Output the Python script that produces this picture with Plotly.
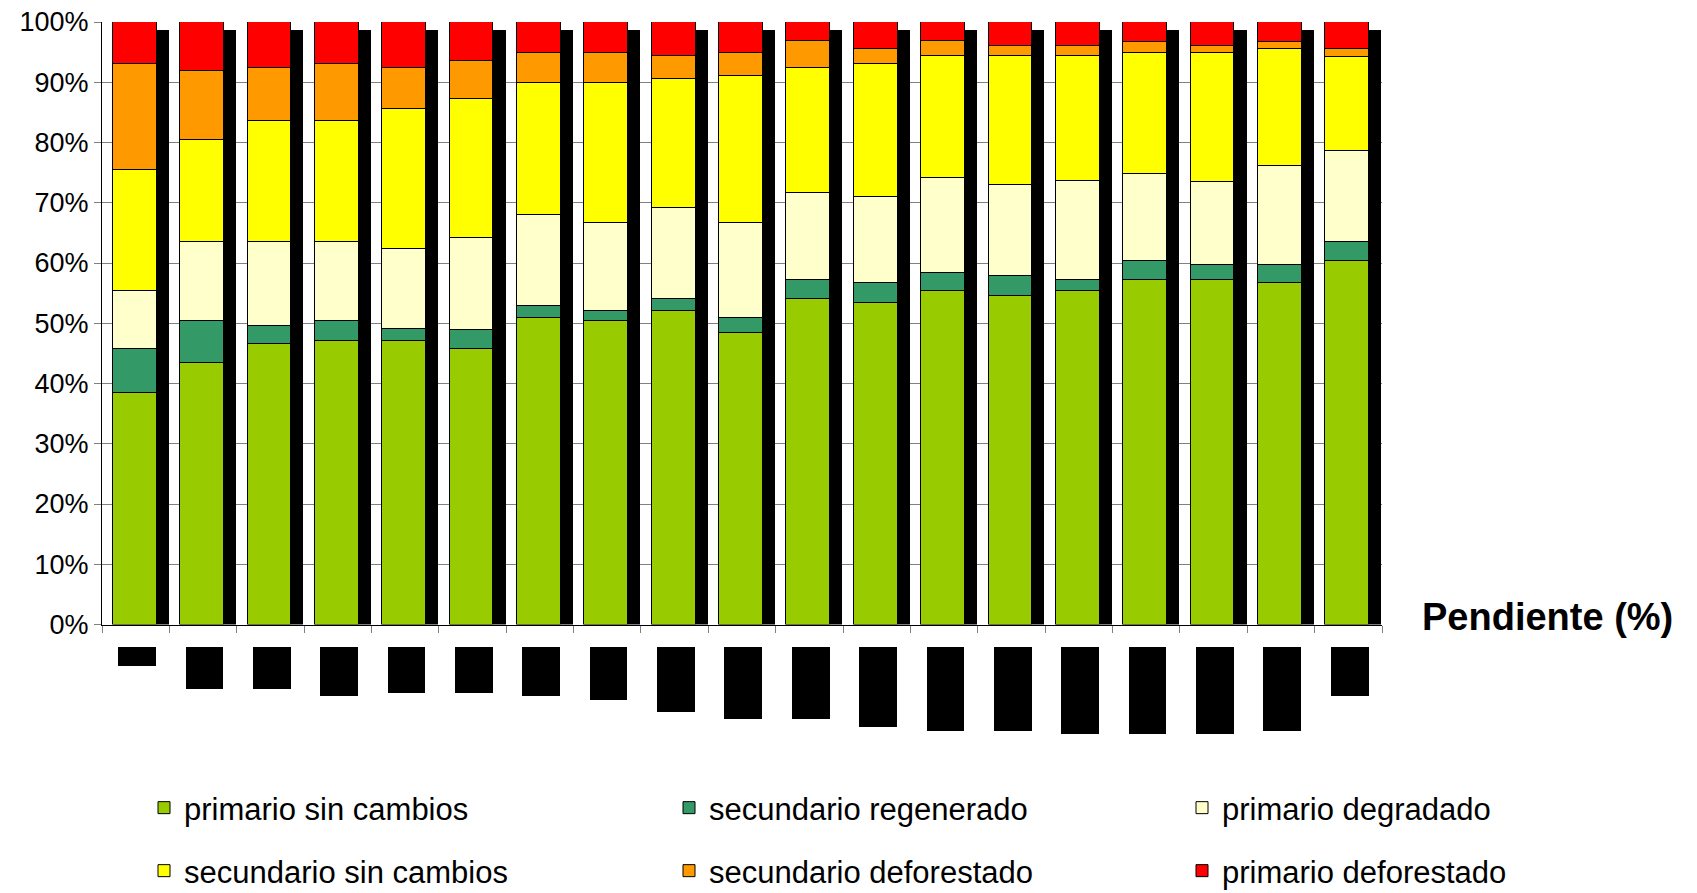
import plotly.graph_objects as go

# ---------------- data ----------------
categorias = [str(i) for i in range(1, 20)]
posiciones = list(range(19))

primario_sin_cambios = [38.4, 43.4, 46.5, 47.1, 47.1, 45.8, 50.8, 50.3, 52.1, 48.3,
                        54.0, 53.3, 55.3, 54.6, 55.3, 57.2, 57.2, 56.6, 60.3]
secundario_regenerado = [7.4, 6.9, 3.1, 3.2, 1.9, 3.0, 2.0, 1.8, 1.9, 2.5,
                         3.1, 3.3, 3.0, 3.2, 1.8, 3.2, 2.5, 3.1, 3.2]
primario_degradado = [9.6, 13.2, 13.9, 13.2, 13.3, 15.3, 15.1, 14.5, 15.1, 15.8,
                      14.5, 14.3, 15.8, 15.1, 16.5, 14.4, 13.8, 16.4, 15.1]
secundario_sin_cambios = [20.0, 16.9, 20.0, 20.0, 23.2, 23.2, 21.9, 23.2, 21.4, 24.4,
                          20.7, 22.1, 20.2, 21.4, 20.7, 20.1, 21.4, 19.4, 15.6]
secundario_deforestado = [17.6, 11.4, 8.8, 9.5, 6.8, 6.2, 5.0, 5.0, 3.8, 3.8,
                          4.5, 2.5, 2.5, 1.7, 1.7, 1.8, 1.2, 1.2, 1.3]
primario_deforestado = [7.0, 8.2, 7.7, 7.0, 7.7, 6.5, 5.2, 5.2, 5.7, 5.2,
                        3.2, 4.5, 3.2, 4.0, 4.0, 3.3, 3.9, 3.3, 4.5]

# dark "shadow" column drawn beside each stacked bar (%)
sombra = [98.7, 98.7, 98.7, 98.7, 98.7, 98.7, 98.7, 98.7, 98.7, 98.7,
          98.7, 98.7, 98.7, 98.7, 98.7, 98.7, 98.7, 98.7, 98.7]

# length of the (blacked-out) category label boxes under the axis
etiqueta_largo = [19, 42, 42, 49, 46, 46, 49, 53, 65, 72,
                  72, 80, 84, 84, 87, 87, 87, 84, 49]

ytick_vals = [0, 10, 20, 30, 40, 50, 60, 70, 80, 90, 100]
ytick_text = ["0%", "10%", "20%", "30%", "40%", "50%", "60%", "70%", "80%", "90%", "100%"]

series = [
    ("primario sin cambios", primario_sin_cambios, "#99CC00"),
    ("secundario regenerado", secundario_regenerado, "#339966"),
    ("primario degradado", primario_degradado, "#FFFFCC"),
    ("secundario sin cambios", secundario_sin_cambios, "#FFFF00"),
    ("secundario deforestado", secundario_deforestado, "#FF9900"),
    ("primario deforestado", primario_deforestado, "#FF0000"),
]

# ---------------- layout geometry ----------------
W, H = 1697, 893
ML, MR, MT, MB = 102, 315, 22, 153
PW = W - ML - MR
PH = H - MT - MB
FONT = "Liberation Sans, Arial, sans-serif"


def px_x(px):
    return (px - ML) / PW


def px_y(py):
    return (H - MB - py) / PH


fig = go.Figure()

legend_names = ["legend", "legend2", "legend3", "legend4", "legend5", "legend6"]
for (name, vals, col), lg in zip(series, legend_names):
    fig.add_trace(go.Bar(
        x=posiciones, y=vals, name=name,
        marker=dict(color=col, line=dict(color="#000000", width=1)),
        width=0.65, offset=-0.34,
        xaxis="x", yaxis="y", legend=lg,
        hovertemplate=name + ": %{y:.1f}%<extra></extra>",
    ))

fig.add_trace(go.Bar(
    x=posiciones, y=sombra, showlegend=False,
    marker=dict(color="#000000", line=dict(width=0)),
    width=0.18, offset=0.31,
    xaxis="x2", yaxis="y", hoverinfo="skip",
))

fig.add_trace(go.Bar(
    x=posiciones, y=etiqueta_largo, showlegend=False,
    marker=dict(color="#000000", line=dict(width=0)),
    width=0.56, offset=-0.26,
    xaxis="x", yaxis="y2", hoverinfo="skip",
))

y_bottom = px_y(624.5)
y2_top = px_y(646.7)

fig.update_layout(
    width=W, height=H,
    margin=dict(l=ML, r=MR, t=MT, b=MB, pad=0, autoexpand=False),
    paper_bgcolor="#FFFFFF", plot_bgcolor="rgba(0,0,0,0)",
    barmode="stack", bargap=0,
    font=dict(family=FONT, color="#000000"),
    xaxis=dict(
        range=[-0.5, 18.5], anchor="y",
        showgrid=False, zeroline=False,
        showline=True, linecolor="#000000", linewidth=1,
        ticks="outside", ticklen=7, tickcolor="#808080", tickwidth=1,
        tickvals=[i - 0.5 for i in range(20)],
        showticklabels=False,
    ),
    xaxis2=dict(range=[-0.5, 18.5], overlaying="x", visible=False, anchor="y"),
    yaxis=dict(
        domain=[y_bottom, 1], range=[0, 100],
        tickvals=ytick_vals, ticktext=ytick_text,
        showgrid=True, gridcolor="#808080", gridwidth=1,
        zeroline=False,
        showline=True, linecolor="#000000", linewidth=1,
        ticks="outside", ticklen=7, tickcolor="#808080",
        tickfont=dict(family=FONT, size=27, color="#000000"),
        ticklabelstandoff=0,
    ),
    yaxis2=dict(
        domain=[0, y2_top], range=[y2_top * PH, 0],
        visible=False, anchor="x",
    ),
    showlegend=True,
)

# six single-entry legends laid out as a 3 x 2 grid
leg_x = [px_x(144), px_x(669), px_x(1182)]
leg_y = [px_y(808), px_y(871)]
for k, lg in enumerate(legend_names):
    fig.update_layout({lg: dict(
        x=leg_x[k % 3], y=leg_y[k // 3], xanchor="left", yanchor="middle",
        xref="paper", yref="paper",
        orientation="h", bgcolor="rgba(0,0,0,0)", borderwidth=0,
        font=dict(family=FONT, size=31, color="#000000"),
        itemclick=False, itemdoubleclick=False,
    )})

fig.add_annotation(
    text="<b>Pendiente (%)</b>", xref="paper", yref="paper",
    x=px_x(1420), y=px_y(617), xanchor="left", yanchor="middle",
    showarrow=False, font=dict(family=FONT, size=38, color="#000000"),
)

fig.write_html("out.html", config={"displayModeBar": False},
               post_script="document.body.style.margin='0px';")
